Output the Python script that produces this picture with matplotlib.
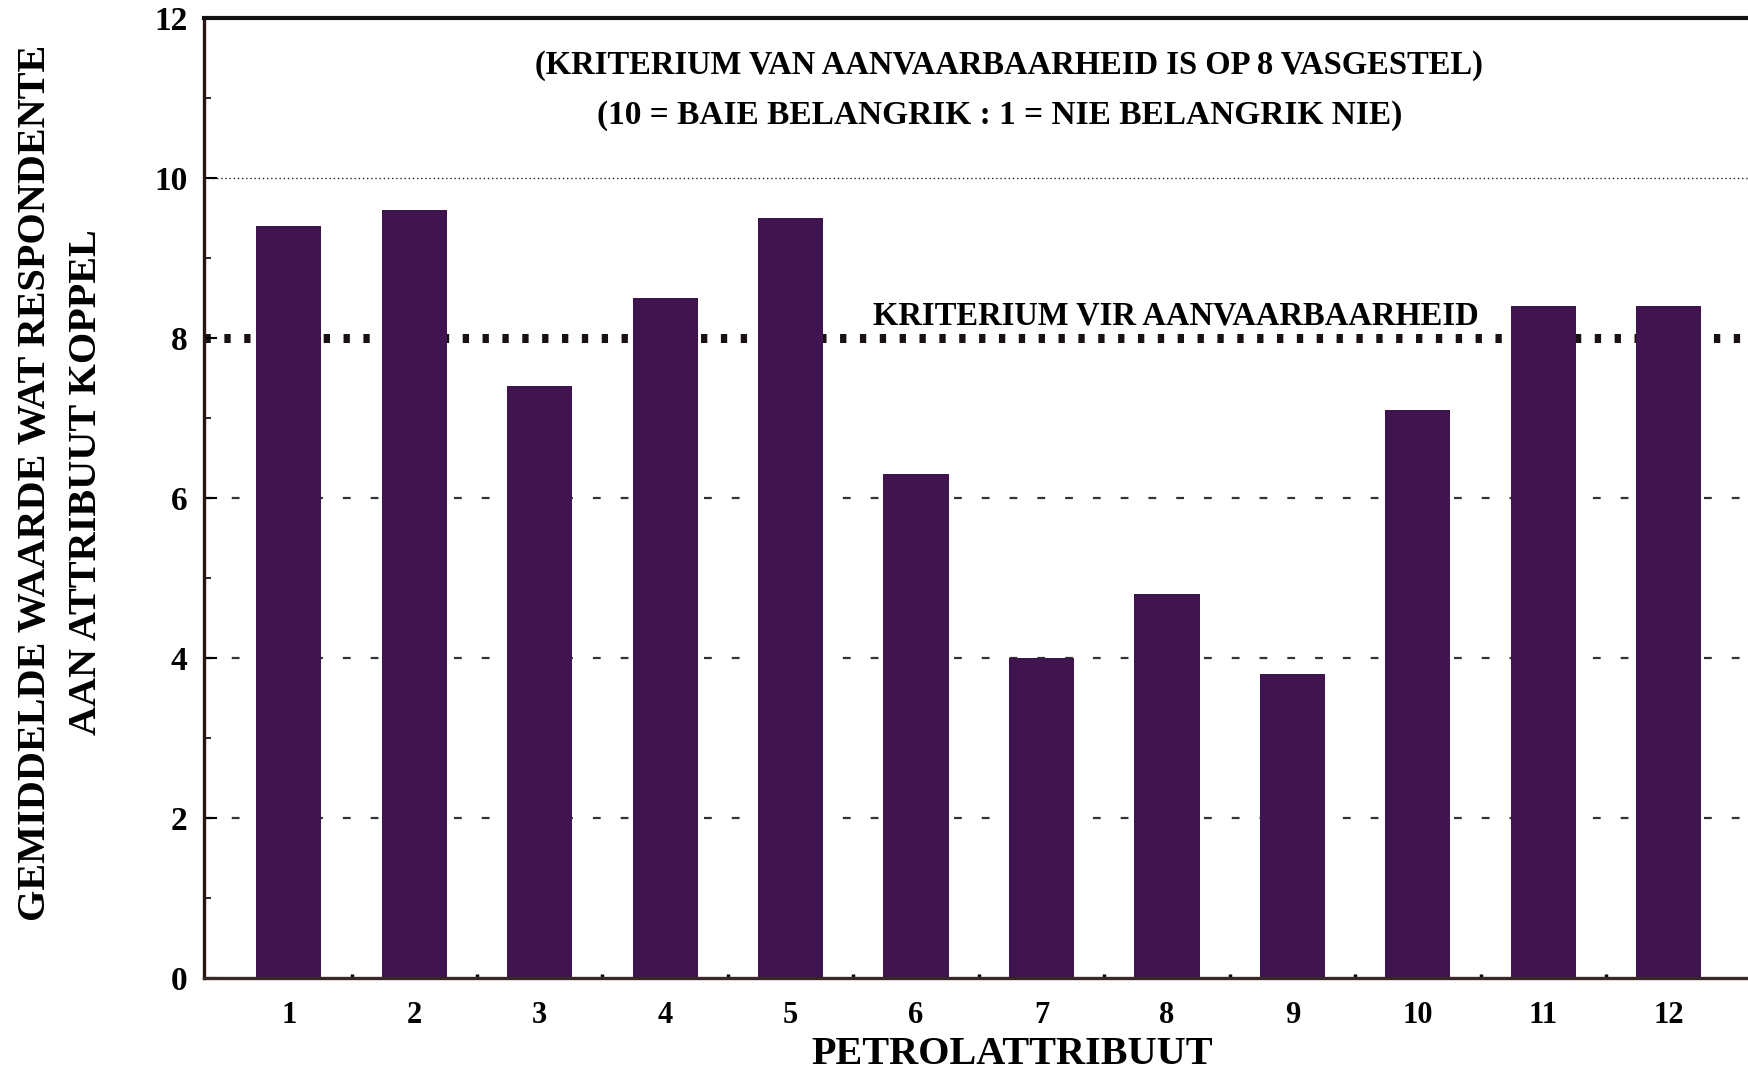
import numpy as np
import matplotlib
matplotlib.use("Agg")
import matplotlib.pyplot as plt
from matplotlib.ticker import MultipleLocator

plt.rcParams['font.family'] = ['Liberation Serif', 'DejaVu Serif']
plt.rcParams['font.weight'] = 'bold'

# data
attributes = [1, 2, 3, 4, 5, 6, 7, 8, 9, 10, 11, 12]
means = [9.4, 9.6, 7.4, 8.5, 9.5, 6.3, 4.0, 4.8, 3.8, 7.1, 8.4, 8.4]
criterion = 8
y_ticks = [0, 2, 4, 6, 8, 10, 12]

bar_col = '#40144f'

fig = plt.figure(figsize=(17.49, 10.72), dpi=100)
ax = fig.add_axes([0.1167, 0.0874, 1 - 0.1167, 0.8956])

# gridlines behind bars
ax.axhline(10, color='#222222', lw=1.0, ls=(0, (1, 2)), zorder=1)
ax.axhline(criterion, color='#1a1212', lw=6.5, ls=(0, (0.7, 1.5)), zorder=1)
for g in [2, 4, 6]:
    ax.axhline(g, color='#333333', lw=1.6, ls=(0, (3.5, 9)), zorder=1)

ax.bar(attributes, means, width=0.52, color=bar_col, zorder=2)

ax.set_xlim(0.325, 12.64)
ax.set_ylim(0, 12)
ax.set_xticks(attributes)
ax.set_xticklabels([str(a) for a in attributes])
ax.set_yticks(y_ticks)
ax.yaxis.set_minor_locator(MultipleLocator(1))
ax.set_xticks(np.arange(1.5, 12.5, 1), minor=True)

ax.tick_params(axis='y', which='major', direction='in', length=9, width=1.5,
               labelsize=24, pad=12)
ax.tick_params(axis='y', which='minor', direction='in', length=5, width=1.2)
ax.tick_params(axis='x', which='major', length=0, labelsize=22, pad=16)
ax.tick_params(axis='x', which='minor', direction='in', length=3, width=2.5)

ax.spines['right'].set_visible(False)
ax.spines['top'].set_linewidth(3)
ax.spines['top'].set_color('#111111')
ax.spines['left'].set_linewidth(2.4)
ax.spines['left'].set_color('#2a1515')
ax.spines['bottom'].set_linewidth(2.4)
ax.spines['bottom'].set_color('#3a2828')

ax.text(6.74, 11.41, '(KRITERIUM VAN AANVAARBAARHEID IS OP 8 VASGESTEL)',
        ha='center', va='center', fontsize=23.5, fontweight='bold')
ax.text(6.67, 10.79, '(10 = BAIE BELANGRIK : 1 = NIE BELANGRIK NIE)',
        ha='center', va='center', fontsize=24, fontweight='bold')
ax.text(8.07, 8.28, 'KRITERIUM VIR AANVAARBAARHEID',
        ha='center', va='center', fontsize=23.5, fontweight='bold', zorder=3)

fig.text(0.0350, 0.55, 'GEMIDDELDE WAARDE WAT RESPONDENTE\nAAN ATTRIBUUT KOPPEL',
         rotation=90, ha='center', va='center', fontsize=29, fontweight='bold',
         linespacing=1.5)
fig.text(0.5785, 0.0166, 'PETROLATTRIBUUT', ha='center', va='center',
         fontsize=29, fontweight='bold')

fig.savefig('out.png', dpi=100)
